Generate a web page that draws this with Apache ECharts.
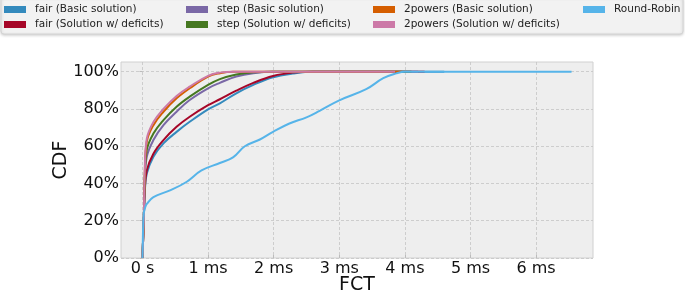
<!DOCTYPE html>
<html>
<head>
<meta charset="utf-8">
<script src="https://cdn.jsdelivr.net/npm/echarts@6/dist/echarts.min.js"></script>
<style>
  html, body { margin: 0; padding: 0; background: #fff; }
  #chart { width: 685px; height: 293px; }
</style>
</head>
<body>
<div id="chart"></div>
<script>
// FCT in ms, CDF as fraction
const fairBasicX = [0, 0.01, 0.02, 0.035, 0.066, 0.167, 0.32, 0.52, 0.72, 1.0, 1.18, 1.43, 1.69, 1.99, 2.29, 2.6, 4.6];
const fairBasicY = [0, 0.1, 0.2, 0.35, 0.453, 0.543, 0.615, 0.677, 0.731, 0.798, 0.83, 0.884, 0.929, 0.97, 0.99, 1.0, 1.0];
const fairDefX = [0, 0.01, 0.02, 0.035, 0.066, 0.167, 0.32, 0.52, 0.72, 1.0, 1.18, 1.43, 1.69, 1.99, 2.29, 2.6, 4.3];
const fairDefY = [0, 0.1, 0.2, 0.36, 0.47, 0.56, 0.633, 0.704, 0.758, 0.82, 0.852, 0.898, 0.94, 0.977, 0.995, 1.0, 1.0];
const stepBasicX = [0, 0.01, 0.02, 0.035, 0.066, 0.167, 0.32, 0.52, 0.72, 1.0, 1.18, 1.43, 1.69, 1.99, 4.2];
const stepBasicY = [0, 0.1, 0.2, 0.4, 0.543, 0.633, 0.713, 0.785, 0.848, 0.911, 0.94, 0.974, 0.992, 1.0, 1.0];
const stepDefX = [0, 0.01, 0.02, 0.035, 0.066, 0.167, 0.32, 0.52, 0.72, 1.0, 1.18, 1.43, 1.69, 1.99, 4.1];
const stepDefY = [0, 0.1, 0.2, 0.42, 0.58, 0.668, 0.74, 0.812, 0.866, 0.929, 0.96, 0.985, 0.997, 1.0, 1.0];
const powBasicX = [0, 0.01, 0.02, 0.035, 0.066, 0.167, 0.32, 0.52, 0.72, 1.0, 1.18, 1.38, 3.95];
const powBasicY = [0, 0.1, 0.2, 0.45, 0.624, 0.713, 0.785, 0.857, 0.911, 0.974, 0.992, 1.0, 1.0];
const powDefX = [0, 0.01, 0.02, 0.035, 0.066, 0.167, 0.32, 0.52, 0.72, 1.0, 1.18, 1.38, 3.85];
const powDefY = [0, 0.1, 0.2, 0.47, 0.64, 0.73, 0.8, 0.87, 0.92, 0.978, 0.995, 1.0, 1.0];
const rrX = [0, 0.005, 0.01, 0.02, 0.04, 0.066, 0.167, 0.42, 0.67, 0.9, 1.18, 1.38, 1.56, 1.79, 1.99, 2.24, 2.5, 2.7, 3.0, 3.41, 3.67, 3.87, 4.0, 6.54];
const rrY = [0, 0.08, 0.16, 0.24, 0.27, 0.29, 0.327, 0.363, 0.408, 0.47, 0.51, 0.54, 0.6, 0.636, 0.677, 0.722, 0.755, 0.79, 0.846, 0.906, 0.965, 0.991, 1.0, 1.0];

const xTicks = [0, 1, 2, 3, 4, 5, 6];
const yTicks = [0, 0.2, 0.4, 0.6, 0.8, 1.0];

const names = [
  "fair (Basic solution)", "fair (Solution w/ deficits)",
  "step (Basic solution)", "step (Solution w/ deficits)",
  "2powers (Basic solution)", "2powers (Solution w/ deficits)",
  "Round-Robin"
];
const colors = ["#348ABD", "#A60628", "#7A68A6", "#467821", "#D55E00", "#CC79A7", "#56B4E9"];
const xs = [fairBasicX, fairDefX, stepBasicX, stepDefX, powBasicX, powDefX, rrX];
const ys = [fairBasicY, fairDefY, stepBasicY, stepDefY, powBasicY, powDefY, rrY];

const zip = (a, b) => a.map((v, i) => [v, b[i]]);

const series = names.map((n, i) => ({
  name: n,
  type: "line",
  data: zip(xs[i], ys[i]),
  showSymbol: false,
  smooth: 0.4,
  color: colors[i],
  lineStyle: { width: 2, color: colors[i] },
  animation: false,
}));

const legendCols = [[0, 1], [2, 3], [4, 5], [6]];
const legendLefts = [4, 186, 373, 583];
const legend = legendCols.map((c, k) => ({
  orient: "vertical",
  left: legendLefts[k],
  top: 3,
  padding: 0,
  itemGap: 2,
  itemWidth: 22,
  itemHeight: 7,
  icon: "rect",
  data: c.map((i) => names[i]),
  textStyle: {
    fontFamily: "DejaVu Sans",
    fontSize: 10.5,
    color: "#222",
    lineHeight: 13,
    padding: [0, 0, 0, 4],
  },
}));

const chart = echarts.init(document.getElementById("chart"));
chart.setOption({
  backgroundColor: "#fff",
  animation: false,
  graphic: [{
    type: "rect",
    shape: { x: 1, y: -3, width: 682, height: 37, r: 3 },
    style: {
      fill: "#f2f2f2", stroke: "#d4d4d4", lineWidth: 1,
      shadowBlur: 3, shadowColor: "rgba(0,0,0,0.18)", shadowOffsetY: 1,
    },
    z: -1,
  }],
  legend: legend,
  grid: {
    left: 121, right: 92, top: 62, bottom: 35,
    outerBoundsMode: "none",
    containLabel: false,
    show: true, backgroundColor: "#eeeeee", borderColor: "#d0d0d0", borderWidth: 1,
  },
  xAxis: {
    type: "value",
    min: -0.327,
    max: 6.867,
    name: "FCT",
    nameLocation: "middle",
    nameGap: 18,
    nameMoveOverlap: false,
    nameTextStyle: { fontFamily: "DejaVu Sans", fontSize: 19, color: "#111" },
    axisLine: { show: false },
    axisTick: { show: true, inside: true, length: 3, customValues: xTicks, lineStyle: { color: "#bcbcbc" } },
    axisLabel: {
      customValues: xTicks,
      margin: 3,
      fontFamily: "DejaVu Sans", fontSize: 16, color: "#111",
      formatter: (v) => (v === 0 ? "0 s" : v + " ms"),
    },
    splitLine: { show: true, lineStyle: { color: "#c4c4c4", width: 0.8, type: [3, 2] } },
  },
  yAxis: {
    type: "value",
    min: 0,
    max: 1.052,
    name: "CDF",
    nameLocation: "middle",
    nameGap: 50,
    nameMoveOverlap: false,
    nameTextStyle: { fontFamily: "DejaVu Sans", fontSize: 19, color: "#111" },
    axisLine: { show: false },
    axisTick: { show: true, length: 3, customValues: yTicks, lineStyle: { color: "#bcbcbc" } },
    axisLabel: {
      customValues: yTicks,
      margin: 2,
      fontFamily: "DejaVu Sans", fontSize: 16, color: "#111",
      formatter: (v) => Math.round(v * 100) + "%",
    },
    splitLine: { show: true, lineStyle: { color: "#c4c4c4", width: 0.8, type: [3, 2] } },
  },
  series: series,
});
</script>
</body>
</html>
